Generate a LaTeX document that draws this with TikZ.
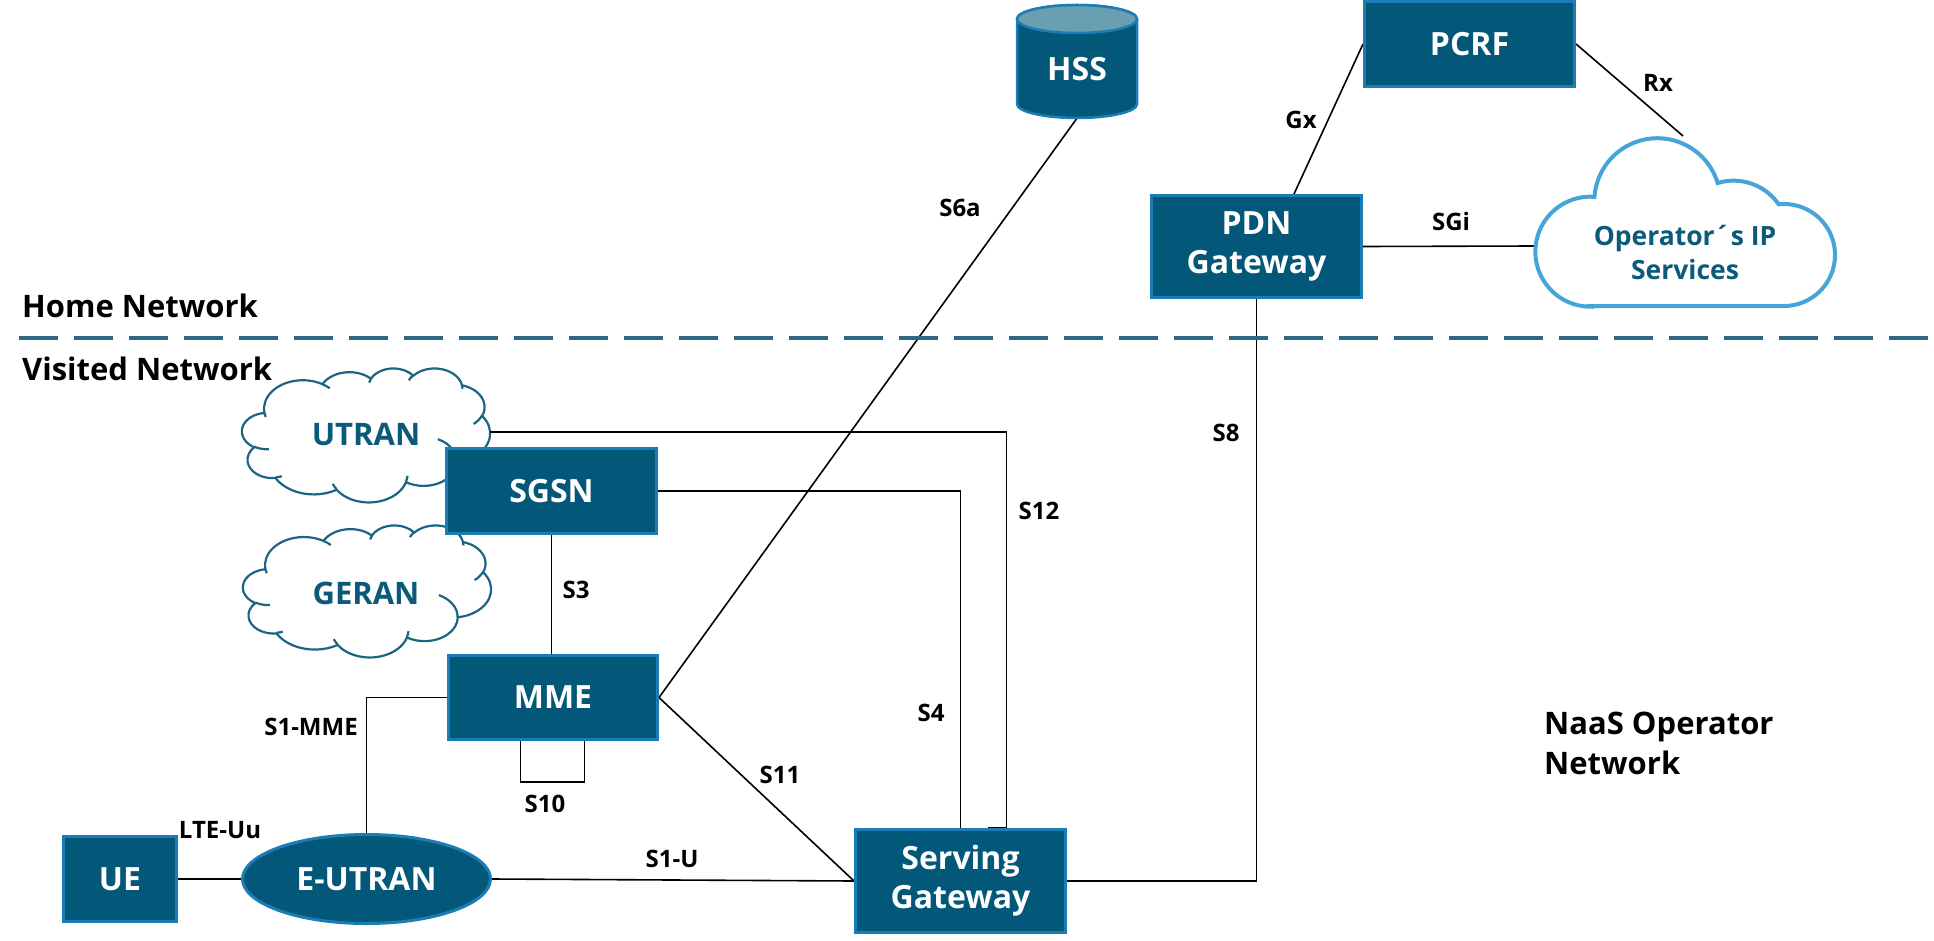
\documentclass[tikz,border=0pt]{standalone}
\usepackage{fontspec}
\setmainfont{Open Sans}
\usetikzlibrary{shapes.geometric}
\definecolor{boxfill}{HTML}{03587A}
\definecolor{boxline}{HTML}{1A7DB5}
\definecolor{cloudline}{HTML}{1B6482}
\definecolor{cloudtext}{HTML}{0B5A79}
\definecolor{bigcloud}{HTML}{45A5D9}
\definecolor{dashcol}{HTML}{2E6786}
\definecolor{hsstop}{HTML}{6A9EB1}
\pgfdeclarelayer{bg}
\pgfsetlayers{bg,main}
\newcommand{\pptcloud}{%
  \draw[cloudline, line width=2.2pt, fill=white] (39.00,143.70)
    arc[start angle=-187.74, end angle=-59.61, x radius=67.53, y radius=91.90]
    arc[start angle=-152.01, end angle=-45.46, x radius=53.33, y radius=72.67]
    arc[start angle=-153.50, end angle=-37.30, x radius=43.65, y radius=59.45]
    arc[start angle=-139.80, end angle=-10.18, x radius=48.57, y radius=65.95]
    arc[start angle=-74.78, end angle=23.23, x radius=53.33, y radius=72.73]
    arc[start angle=-37.48, end angle=81.85, x radius=67.75, y radius=92.20]
    arc[start angle=0.46, end angle=122.03, x radius=57.85, y radius=78.67]
    arc[start angle=16.87, end angle=146.19, x radius=67.52, y radius=92.15]
    arc[start angle=59.05, end angle=150.13, x radius=77.20, y radius=105.43]
    arc[start angle=-276.72, end angle=-137.00, x radius=43.60, y radius=59.18]
    arc[start angle=-239.75, end angle=-95.86, x radius=43.45, y radius=59.45]
    -- cycle;
  \draw[cloudline, line width=2.2pt]
    (46.93,261.77) arc[start angle=85.55, end angle=120.36, x radius=43.45, y radius=59.45]
    (69.28,348.99) arc[start angle=68.24, end angle=83.30, x radius=43.60, y radius=59.18]
    (164.78,390.90) arc[start angle=146.23, end angle=158.47, x radius=67.52, y radius=92.15]
    (288.27,347.51) arc[start angle=4.74, end angle=16.84, x radius=67.52, y radius=92.15]
    (341.29,229.54) arc[start angle=-64.03, end angle=0.46, x radius=57.85, y radius=78.67]
    (417.98,153.54) arc[start angle=23.21, end angle=49.64, x radius=53.33, y radius=72.73]
    (383.24,54.26) arc[start angle=-10.21, end angle=0.82, x radius=48.57, y radius=65.95]
    (290.78,39.52) arc[start angle=-156.29, end angle=-139.70, x radius=48.57, y radius=65.95]
    (221.41,47.20) arc[start angle=-167.73, end angle=-153.50, x radius=43.65, y radius=59.45]
    (140.00,51.92) arc[start angle=-59.63, end angle=-45.73, x radius=67.53, y radius=91.90]
    (41.27,157.89) arc[start angle=163.20, end angle=172.25, x radius=67.53, y radius=91.90];
}
\begin{document}
\begin{tikzpicture}[x=1pt,y=-1pt,
  netbox/.style={draw=boxline, line width=3pt, fill=boxfill, text=white,
    font=\bfseries\fontsize{32}{39}\selectfont, align=center, inner sep=0pt},
  lbl/.style={font=\bfseries\fontsize{24}{28}\selectfont, inner sep=0pt, text=black},
  title/.style={font=\bfseries\fontsize{31}{40}\selectfont, inner sep=0pt, text=black},
  link/.style={line width=1.6pt, black},
  cloudtxt/.style={text=cloudtext, font=\bfseries\fontsize{31}{36}\selectfont, inner sep=0pt}]
\useasboundingbox (0,0) rectangle (1934,941);

% titles
\node[title, anchor=base west] (home) at (22,317) {Home Network};
\node[title, anchor=base west] (visited) at (22,380) {Visited Network};
\node[title, anchor=west, align=left] (naas) at (1544,743) {NaaS Operator\\Network};

% dashed separator
\coordinate (dl) at (19,338);
\coordinate (dr) at (1934,338);
\draw[dashcol, line width=4pt, dash pattern=on 39pt off 16pt] (dl) -- (dr);

% cloud text nodes
\node[cloudtxt, minimum width=248pt, minimum height=134pt] (utran) at (366,435) {UTRAN};
\node[cloudtxt, minimum width=248pt, minimum height=132pt] (geran) at (366,593) {GERAN};

% big cloud
\draw[bigcloud, line width=4pt, fill=white] (1590,306) -- (1784,306)
  arc[start angle=90, end angle=-96, radius=51]
  arc[start angle=-34.8, end angle=-106.8, radius=55]
  arc[start angle=-16.8, end angle=-176, radius=63]
  arc[start angle=-85.7, end angle=-270, radius=55]
  -- cycle;
\node[text=cloudtext, font=\bfseries\fontsize{26.5}{34}\selectfont, align=center, inner sep=0pt]
  (ops) at (1685,252) {Operator´s IP\\Services};
\coordinate (opsW) at (1536,246);
\coordinate (rxend) at (1683,136);

% HSS cylinder
\draw[boxline, line width=2.5pt, fill=boxfill] (1017,19) -- (1017,104)
  arc[start angle=180, end angle=0, x radius=60, y radius=14] -- (1137,19)
  arc[start angle=0, end angle=-180, x radius=60, y radius=14] -- cycle;
\draw[boxline, line width=2.5pt, fill=hsstop] (1077,19) ellipse[x radius=60, y radius=14];
\node[text=white, font=\bfseries\fontsize{32}{39}\selectfont, minimum width=120pt,
  minimum height=98pt, inner sep=0pt] (hss) at (1077,69) {HSS};

% boxes
\node[netbox, minimum width=113pt, minimum height=85pt] (ue) at (120,879) {UE};
\node[netbox, ellipse, minimum width=248pt, minimum height=89pt] (eutran) at (366.5,879) {E-UTRAN};
\node[netbox, minimum width=210pt, minimum height=85pt] (sgsn) at (551.5,491) {SGSN};
\node[netbox, minimum width=209pt, minimum height=84pt] (mme) at (553,697.5) {MME};
\node[netbox, minimum width=210pt, minimum height=103pt] (sgw) at (960.5,881) {Serving\\Gateway};
\node[netbox, minimum width=210pt, minimum height=102pt] (pdn) at (1256.5,246.5) {PDN\\Gateway};
\node[netbox, minimum width=210pt, minimum height=85pt] (pcrf) at (1469.5,44) {PCRF};

% labels
\node[lbl] (lrx) at (1658,83) {Rx};
\node[lbl] (lgx) at (1301,120) {Gx};
\node[lbl] (lsgi) at (1451,222) {SGi};
\node[lbl] (ls6a) at (960,208) {S6a};
\node[lbl] (ls8) at (1226,433) {S8};
\node[lbl] (ls12) at (1039,511) {S12};
\node[lbl] (ls4) at (931,713) {S4};
\node[lbl] (ls11) at (780,775) {S11};
\node[lbl] (ls1u) at (672,859) {S1-U};
\node[lbl] (ls10) at (545,804) {S10};
\node[lbl] (ls1mme) at (311,727) {S1-MME};
\node[lbl] (llte) at (220,830) {LTE-Uu};
\node[lbl] (ls3) at (576,590) {S3};

\begin{pgfonlayer}{bg}
  \begin{scope}[shift={(242,368)}, x=0.5741pt, y=-0.3102pt]
    \pptcloud
  \end{scope}
  \begin{scope}[shift={(243,525)}, x=0.5741pt, y=-0.3056pt]
    \pptcloud
  \end{scope}
  \draw[link] (ue.east) -- (eutran.west);
  \draw[link] (eutran.north) |- (mme.west);
  \draw[link] ([xshift=-32.5pt]mme.south) -- ++(0,41) -| ([xshift=31.5pt]mme.south);
  \draw[link] (sgsn.south) -- (sgsn.south |- mme.north);
  \draw[link] (eutran.east) -- (sgw.west);
  \draw[link] (mme.east) -- (sgw.west);
  \draw[link] (mme.east) -- (hss.south);
  \draw[link] (sgsn.east) -| (sgw.north);
  \draw[link] ([yshift=3pt]utran.east) -| ([xshift=46pt]sgw.north) -- ++(-19,0);
  \draw[link] (pdn.south) |- (sgw.east);
  \draw[link] (pdn.east) -- (opsW);
  \draw[link] (pcrf.west) -- ([xshift=37.5pt]pdn.north);
  \draw[link] (pcrf.east) -- (rxend);
\end{pgfonlayer}
\end{tikzpicture}
\end{document}
